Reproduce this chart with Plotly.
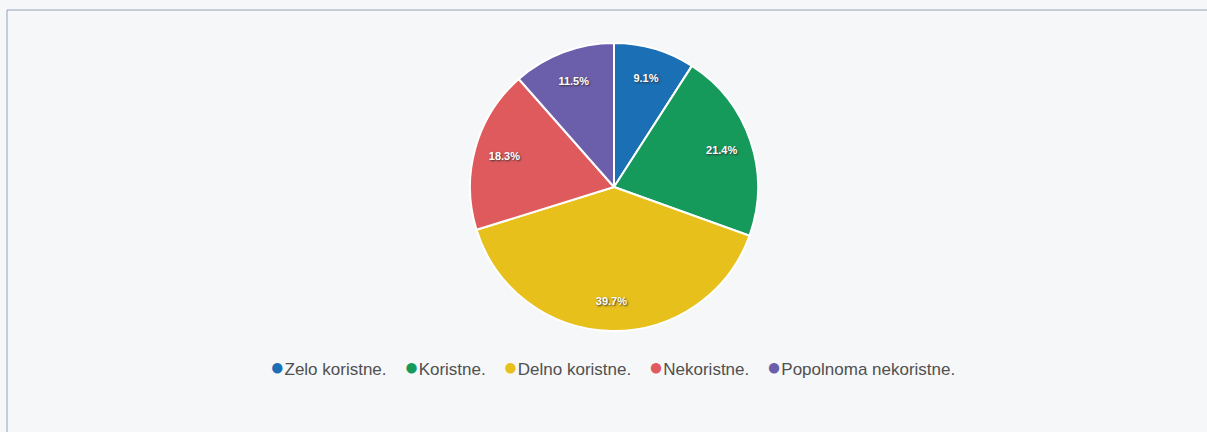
import plotly.graph_objects as go

categories = ["Zelo koristne.", "Koristne.", "Delno koristne.", "Nekoristne.", "Popolnoma nekoristne."]
percentages = [9.1, 21.4, 39.7, 18.3, 11.5]
colors = ["#1a6fb5", "#159a5c", "#e8c01c", "#df5a5c", "#6b5fab"]

W, H = 1207, 432
pie_domain = dict(x=[470 / W, 758 / W], y=[(H - 331) / H, (H - 43) / H])

fig = go.Figure()

# coloured slices
fig.add_trace(go.Pie(
    labels=categories,
    values=percentages,
    sort=False,
    direction="clockwise",
    rotation=0,
    marker=dict(colors=colors, line=dict(color="#ffffff", width=2)),
    textinfo="none",
    domain=pie_domain,
    showlegend=False,
    hoverinfo="label+percent",
))

# percentage labels (ring overlay pushes labels towards the rim)
fig.add_trace(go.Pie(
    labels=categories,
    values=percentages,
    sort=False,
    direction="clockwise",
    rotation=0,
    hole=0.58,
    marker=dict(colors=["rgba(0,0,0,0)"] * len(categories), line=dict(width=0)),
    texttemplate="%{value:.1f}%",
    textposition="inside",
    insidetextorientation="horizontal",
    textfont=dict(family="Liberation Sans, Arial", size=11, color="#ffffff",
                  weight="bold", shadow="1px 1px 2px #333333"),
    domain=pie_domain,
    showlegend=False,
    hoverinfo="skip",
))

# legend row built from the category list
gap = "\u00a0" * 3 + "\u2009"
legend_html = gap.join(
    f'<span style="color:{c}; font-size:24px">\u25cf</span>{t}'
    for t, c in zip(categories, colors)
)

fig.update_layout(
    width=W, height=H,
    margin=dict(l=0, r=0, t=0, b=0),
    paper_bgcolor="#f6f7f8",
    plot_bgcolor="#f6f7f8",
    font=dict(family="Liberation Sans, Arial", size=17, color="#505050"),
    showlegend=False,
    annotations=[dict(
        text=legend_html, xref="paper", yref="paper",
        x=612 / W, y=(H - 366) / H, xanchor="center", yanchor="middle",
        showarrow=False, font=dict(size=17, color="#505050"),
    )],
    shapes=[dict(type="rect", xref="paper", yref="paper",
                 x0=7 / W, x1=1.0 + 5 / W, y0=-5 / H, y1=(H - 10) / H,
                 line=dict(color="#93a4b8", width=1), fillcolor="rgba(0,0,0,0)")],
)

fig.write_html("out.html", config={"displayModeBar": False},
               post_script="document.body.style.margin='0';")
